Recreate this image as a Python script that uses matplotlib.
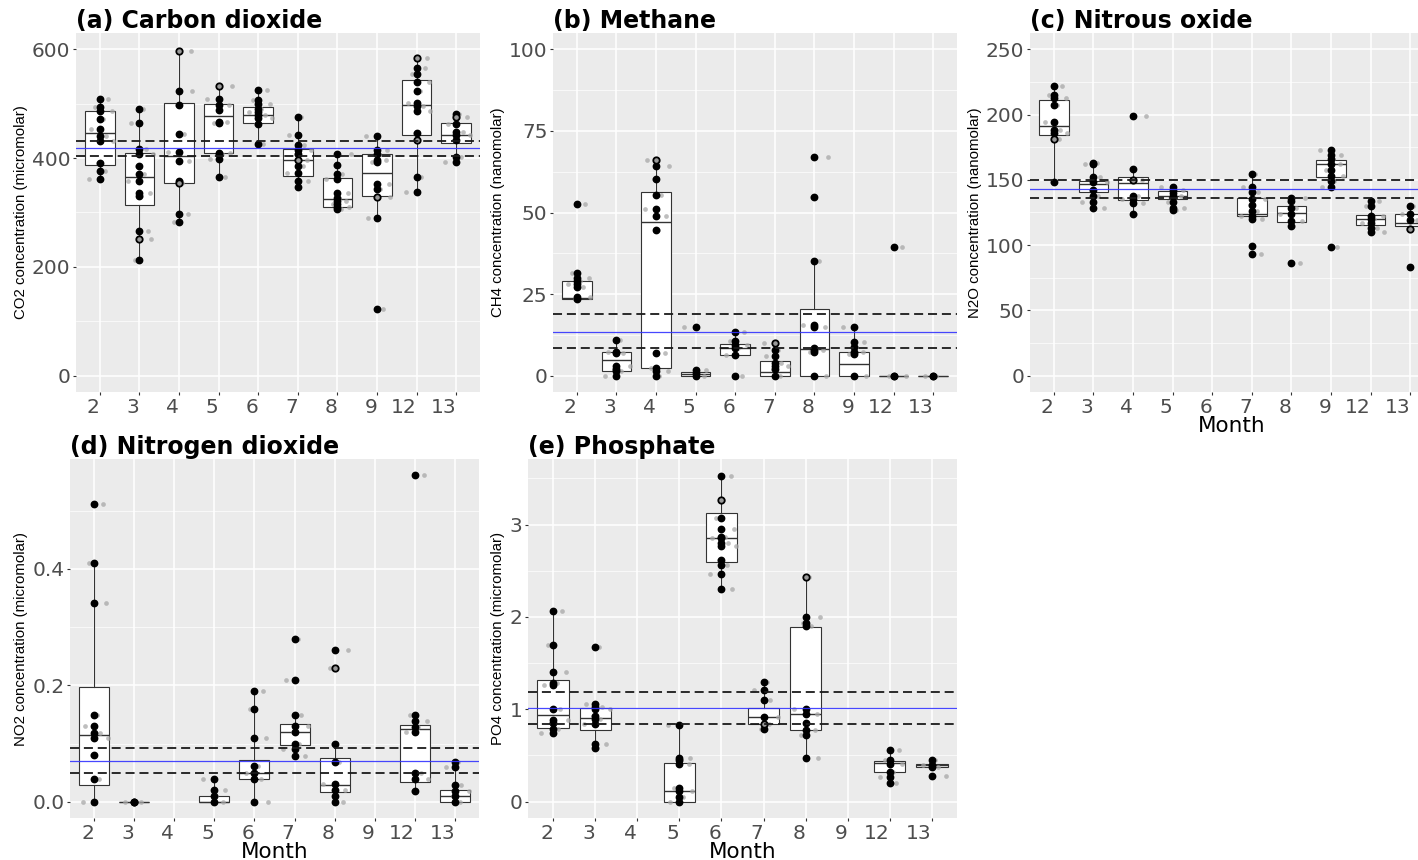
import matplotlib
matplotlib.use('Agg')
import matplotlib.pyplot as plt
from matplotlib.ticker import FixedLocator

plt.rcParams['lines.scale_dashes'] = False

OUTPUT_FILE = 'out.png'

MONTHS = ['2', '3', '4', '5', '6', '7', '8', '9', '12', '13']

# ---- CO2 (micromolar) ----
CO2_PTS = [
    [508, 494, 487, 472, 453, 440, 432, 391, 376, 362],
    [491, 465, 417, 407, 386, 371, 358, 336, 330, 266, 213],
    [523, 497, 445, 412, 394, 358, 297, 283],
    [508, 497, 488, 467, 464, 410, 407, 398, 366],
    [526, 506, 500, 491, 485, 479, 473, 462, 426],
    [475, 442, 424, 415, 407, 386, 372, 357, 346],
    [408, 388, 371, 362, 335, 326, 321, 316, 311, 306],
    [440, 415, 407, 396, 392, 352, 344, 289, 122],
    [565, 555, 540, 524, 502, 495, 486, 446, 365, 338],
    [481, 462, 448, 442, 433, 402, 392],
]
CO2_OPEN = [[], [251], [596, 354], [532], [], [396], [], [329], [584, 433], [476]]
# whisker low, q1, median, q3, whisker high
CO2_BOX = [
    (362, 388, 447, 486, 508), (213, 314, 365, 410, 491), (283, 354, 404, 502, 596),
    (366, 410, 478, 499, 532), (426, 465, 479, 494, 526), (346, 367, 396, 417, 475),
    (306, 311, 325, 364, 408), (289, 330, 372, 408, 440), (338, 442, 498, 544, 584),
    (392, 427, 442, 465, 481),
]
CO2_MEAN, CO2_LO, CO2_HI = 418, 404, 431

# ---- CH4 (nanomolar) ----
CH4_PTS = [
    [52.6, 31.6, 30, 29, 28, 27.3, 24, 23.6],
    [10.8, 7.4, 6.9, 2.9, 2.1, 1.3, 0],
    [64.4, 60.4, 55.3, 51.1, 49, 44.6, 6.9, 2.3, 1.3, 0],
    [14.9, 1.6, 0.8, 0],
    [13.3, 10.5, 9.5, 8.5, 6.2, 0],
    [8, 5.9, 3.9, 2.9, 2, 0],
    [66.9, 54.8, 35, 15.6, 14.9, 8.5, 8, 7.2, 0],
    [14.9, 10.3, 8.7, 7.2, 6.6, 0],
    [39.3, 0, 0],
    [0, 0],
]
CH4_OPEN = [[], [], [66.1], [], [], [10], [], [], [], []]
CH4_BOX = [
    (23.6, 23.6, 23.8, 28.9, 31.6), (0, 1.4, 4.9, 7.2, 10.8), (0, 2.3, 47, 56.4, 66.1),
    (0, 0, 0.5, 1.2, 1.6), (6.2, 6.2, 8.5, 9.8, 13.3), (0, 0, 1, 4.4, 10),
    (0, 0, 8.3, 20.3, 35), (0, 0, 3.5, 7.4, 14.9), (0, 0, 0, 0, 0), (0, 0, 0, 0, 0),
]
CH4_MEAN, CH4_LO, CH4_HI = 13.4, 8.5, 18.9

# ---- N2O (nanomolar) ----
N2O_PTS = [
    [222, 215, 213, 207, 194, 188, 186, 148],
    [163, 162, 152, 148, 142.6, 138, 133, 128.6],
    [199, 158, 137.5, 135, 132, 124],
    [144.6, 142.6, 140, 137.5, 133, 128.6, 126.8],
    [],
    [154.8, 144.6, 140.5, 135, 130.6, 126, 122, 119.7, 99.3, 92.9],
    [136, 134, 128.6, 124, 118.4, 115, 86.6],
    [172.6, 169.3, 166, 162.4, 157.8, 153.3, 149.4, 144.3, 98.5],
    [134, 130.3, 122.7, 119.7, 116.6, 113.3, 110.2],
    [130, 124, 119, 83.2],
]
N2O_OPEN = [[181], [], [150], [], [], [], [], [], [], [112.5]]
N2O_BOX = [
    (148, 184, 191, 211, 222), (128.6, 141, 147, 149, 163), (124, 134.4, 147.7, 152, 158),
    (126.8, 135, 137.5, 141.5, 144.6), None, (119.7, 122, 124, 136, 154.8),
    (115, 117.9, 124.7, 130, 136), (144.3, 152.2, 162.4, 165.5, 172.6),
    (110.2, 115.6, 119.7, 123.2, 134), (112.5, 115, 117, 123.5, 130),
]
N2O_MEAN, N2O_LO, N2O_HI = 143, 136.2, 150

# ---- NO2 (micromolar) ----
NO2_PTS = [
    [0.512, 0.41, 0.341, 0.149, 0.13, 0.118, 0.109, 0.08, 0.039, 0],
    [0, 0, 0],
    [],
    [0.039, 0.02, 0.009, 0],
    [0.19, 0.159, 0.109, 0.061, 0.05, 0.039, 0],
    [0.279, 0.21, 0.149, 0.13, 0.12, 0.099, 0.09, 0.079],
    [0.26, 0.1, 0.068, 0.03, 0.02, 0.01, 0],
    [],
    [0.561, 0.149, 0.139, 0.129, 0.12, 0.05, 0.039, 0.019],
    [0.068, 0.06, 0.029, 0.019, 0.01, 0],
]
NO2_OPEN = [[], [], [], [], [], [], [0.229], [], [], []]
NO2_BOX = [
    (0, 0.029, 0.115, 0.197, 0.41), (0, 0, 0, 0, 0), None, (0, 0, 0, 0.009, 0.039),
    (0, 0.039, 0.05, 0.071, 0.19), (0.079, 0.097, 0.12, 0.134, 0.149),
    (0, 0.017, 0.029, 0.075, 0.1), None, (0.019, 0.034, 0.125, 0.132, 0.149),
    (0, 0, 0.01, 0.02, 0.068),
]
NO2_MEAN, NO2_LO, NO2_HI = 0.07, 0.05, 0.092

# ---- PO4 (micromolar) ----
PO4_PTS = [
    [2.06, 1.70, 1.40, 1.29, 1.26, 1.0, 0.88, 0.85, 0.79, 0.74],
    [1.67, 1.06, 1.03, 1.0, 0.93, 0.89, 0.84, 0.62, 0.58],
    [],
    [0.83, 0.476, 0.447, 0.41, 0.15, 0.115, 0.05, 0],
    [3.53, 3.07, 2.95, 2.87, 2.85, 2.80, 2.77, 2.62, 2.56, 2.46, 2.30],
    [1.30, 1.21, 1.10, 0.92, 0.79],
    [2.0, 1.93, 1.90, 1.0, 0.945, 0.85, 0.78, 0.72, 0.476],
    [],
    [0.555, 0.447, 0.41, 0.325, 0.267, 0.205],
    [0.447, 0.397, 0.375, 0.278],
]
PO4_OPEN = [[], [], [], [], [3.27], [0.844], [2.43], [], [], []]
PO4_BOX = [
    (0.74, 0.80, 0.938, 1.316, 2.063), (0.58, 0.78, 0.91, 1.01, 1.06), None,
    (0, 0, 0.115, 0.42, 0.83), (2.30, 2.60, 2.85, 3.12, 3.53), (0.79, 0.844, 0.92, 1.017, 1.30),
    (0.476, 0.78, 0.945, 1.89, 2.43), None, (0.205, 0.32, 0.415, 0.44, 0.555),
    (0.375, 0.375, 0.397, 0.41, 0.447),
]
PO4_MEAN, PO4_LO, PO4_HI = 1.017, 0.844, 1.183

# horizontal spread of the grey jittered copies
JITTER = [0.22, -0.12, 0.3, 0.08, -0.22, 0.16, 0.34, -0.05, 0.12, -0.28, 0.26, 0.04]

W, H = 1418, 860
BG = '#EBEBEB'


def make_axes(fig, left, right, top, bottom):
    return fig.add_axes([left / W, 1 - bottom / H, (right - left) / W, (bottom - top) / H])


def draw_panel(ax, pts, opens, boxes, mean, lo, hi, ylim, yticks, ylabels, yminor,
               ylabel, title, month_label=False):
    ax.set_facecolor(BG)
    for s in ax.spines.values():
        s.set_visible(False)
    ax.set_axisbelow(True)

    # boxes
    stats, pos = [], []
    for i, b in enumerate(boxes):
        if b is None:
            continue
        stats.append(dict(whislo=b[0], q1=b[1], med=b[2], q3=b[3], whishi=b[4], fliers=[]))
        pos.append(i)
    ax.bxp(stats, positions=pos, widths=0.75, showcaps=False, showfliers=False,
           patch_artist=True,
           boxprops=dict(facecolor='white', edgecolor='#333333', linewidth=0.8),
           whiskerprops=dict(color='#333333', linewidth=0.8),
           medianprops=dict(color='#333333', linewidth=1.0), zorder=2)

    # grey jittered copies, then the points themselves
    for i in range(len(MONTHS)):
        vals = list(pts[i]) + list(opens[i])
        for k, v in enumerate(vals):
            ax.plot(i + JITTER[(k + 3 * i) % len(JITTER)], v, 'o', ms=3.4,
                    color='#A8A8A8', alpha=0.75, mec='none', zorder=3)
        if pts[i]:
            ax.plot([i] * len(pts[i]), pts[i], 'o', ms=4.6, color='black', mec='black',
                    zorder=4)
        if opens[i]:
            ax.plot([i] * len(opens[i]), opens[i], 'o', ms=4.6, mfc='#9A9A9A',
                    mec='black', mew=1.3, zorder=4)

    # mean and confidence band
    ax.axhline(mean, color='#3333FF', linewidth=0.9, alpha=0.9, zorder=5)
    for y in (lo, hi):
        ax.axhline(y, color='#1A1A1A', linewidth=1.3, dashes=(6.5, 3.5), zorder=5)

    ax.set_xlim(-0.6, len(MONTHS) - 0.4)
    ax.set_ylim(*ylim)
    ax.set_xticks(range(len(MONTHS)))
    # labels sit just left of their tick
    ax.set_xticklabels(MONTHS, ha='right')
    ax.set_yticks(yticks)
    ax.set_yticklabels(ylabels)
    ax.yaxis.set_minor_locator(FixedLocator(yminor))
    ax.grid(True, which='major', color='white', linewidth=1.1)
    ax.grid(True, which='minor', axis='y', color='white', linewidth=0.5)
    ax.tick_params(which='major', length=2.5, width=0.8, color='#333333',
                   labelsize=14.5, labelcolor='#4D4D4D', pad=1.5)
    ax.tick_params(which='minor', length=0)

    ax.set_ylabel(ylabel, family='Liberation Sans', fontsize=10.8, labelpad=3)
    ax.set_title(title, loc='left', fontsize=17, fontweight='bold', pad=2)
    if month_label:
        ax.set_xlabel('Month', fontsize=15.5, labelpad=-0.5)


def generate_graph():
    fig = plt.figure(figsize=(W / 100, H / 100), dpi=100)

    ax = make_axes(fig, 76, 480, 33, 392)
    draw_panel(ax, CO2_PTS, CO2_OPEN, CO2_BOX, CO2_MEAN, CO2_LO, CO2_HI,
               (-30, 630), [0, 200, 400, 600], ['0', '200', '400', '600'], [100, 300, 500],
               'CO2 concentration (micromolar)', '(a) Carbon dioxide')

    ax = make_axes(fig, 553, 957, 33, 392)
    draw_panel(ax, CH4_PTS, CH4_OPEN, CH4_BOX, CH4_MEAN, CH4_LO, CH4_HI,
               (-5, 105), [0, 25, 50, 75, 100], ['0', '25', '50', '75', '100'],
               [12.5, 37.5, 62.5, 87.5],
               'CH4 concentration (nanomolar)', '(b) Methane')

    ax = make_axes(fig, 1030, 1434, 33, 392)
    draw_panel(ax, N2O_PTS, N2O_OPEN, N2O_BOX, N2O_MEAN, N2O_LO, N2O_HI,
               (-12.5, 262.5), [0, 50, 100, 150, 200, 250],
               ['0', '50', '100', '150', '200', '250'], [25, 75, 125, 175, 225],
               'N2O concentration (nanomolar)', '(c) Nitrous oxide', month_label=True)

    ax = make_axes(fig, 70, 479, 459, 818)
    draw_panel(ax, NO2_PTS, NO2_OPEN, NO2_BOX, NO2_MEAN, NO2_LO, NO2_HI,
               (-0.028, 0.589), [0, 0.2, 0.4], ['0.0', '0.2', '0.4'], [0.1, 0.3, 0.5],
               'NO2 concentration (micromolar)', '(d) Nitrogen dioxide', month_label=True)

    ax = make_axes(fig, 528, 957, 459, 818)
    draw_panel(ax, PO4_PTS, PO4_OPEN, PO4_BOX, PO4_MEAN, PO4_LO, PO4_HI,
               (-0.177, 3.71), [0, 1, 2, 3], ['0', '1', '2', '3'], [0.5, 1.5, 2.5, 3.5],
               'PO4 concentration (micromolar)', '(e) Phosphate', month_label=True)

    fig.savefig(OUTPUT_FILE, dpi=100, facecolor='white')


if __name__ == "__main__":
    generate_graph()
